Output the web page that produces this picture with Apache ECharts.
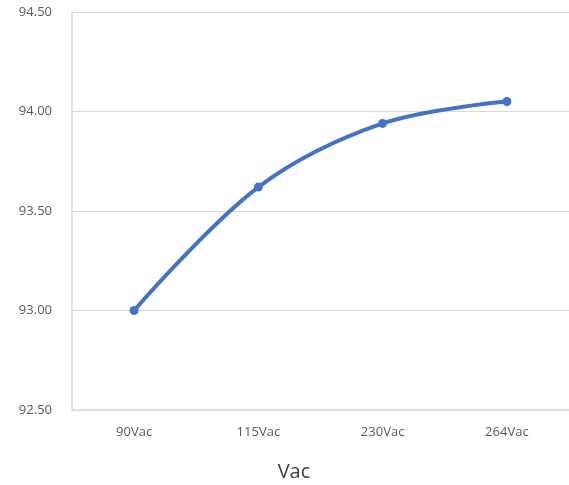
<!DOCTYPE html>
<html><head><meta charset="utf-8">
<script src="https://cdn.jsdelivr.net/npm/echarts@6/dist/echarts.min.js"></script>
<style>html,body{margin:0;padding:0;background:#fff;overflow:hidden;}#c{width:569px;height:485px;}</style>
</head><body><div id="c"></div>
<script>
var categories = ['90Vac', '115Vac', '230Vac', '264Vac'];
var values = [93.00, 93.62, 93.94, 94.05];
var yTicks = { min: 92.5, max: 94.5, interval: 0.5 };
var xName = 'Vac';

var chart = echarts.init(document.getElementById('c'), null, { renderer: 'canvas' });
chart.setOption({
  animation: false,
  backgroundColor: '#fff',
  grid: { left: 72, width: 509, top: 12, height: 398, containLabel: false },
  xAxis: {
    type: 'category', data: categories, boundaryGap: true,
    axisLine: { lineStyle: { color: '#d9d9d9', width: 1.5 } },
    axisTick: { show: false },
    axisLabel: { fontSize: 13, color: '#595959', margin: 16, fontFamily: 'Open Sans' }
  },
  yAxis: {
    type: 'value', min: yTicks.min, max: yTicks.max, interval: yTicks.interval,
    axisLine: { show: true, lineStyle: { color: '#d9d9d9', width: 1.5 } },
    axisTick: { show: false },
    splitLine: { lineStyle: { color: '#d9d9d9', width: 1.2 } },
    axisLabel: { fontSize: 13, color: '#595959', margin: 20, fontFamily: 'Open Sans',
      formatter: function (v) { return v.toFixed(2); } }
  },
  graphic: [{
    type: 'text', x: 294, y: 472,
    style: { text: xName, textAlign: 'center', textVerticalAlign: 'middle',
      font: '20px "Open Sans"', fill: '#404040' }
  }],
  series: [{
    type: 'line', data: values, smooth: 0.35,
    symbol: 'circle', symbolSize: 9,
    lineStyle: { color: '#4472C4', width: 4 },
    itemStyle: { color: '#4472C4' }
  }]
});
</script></body></html>
